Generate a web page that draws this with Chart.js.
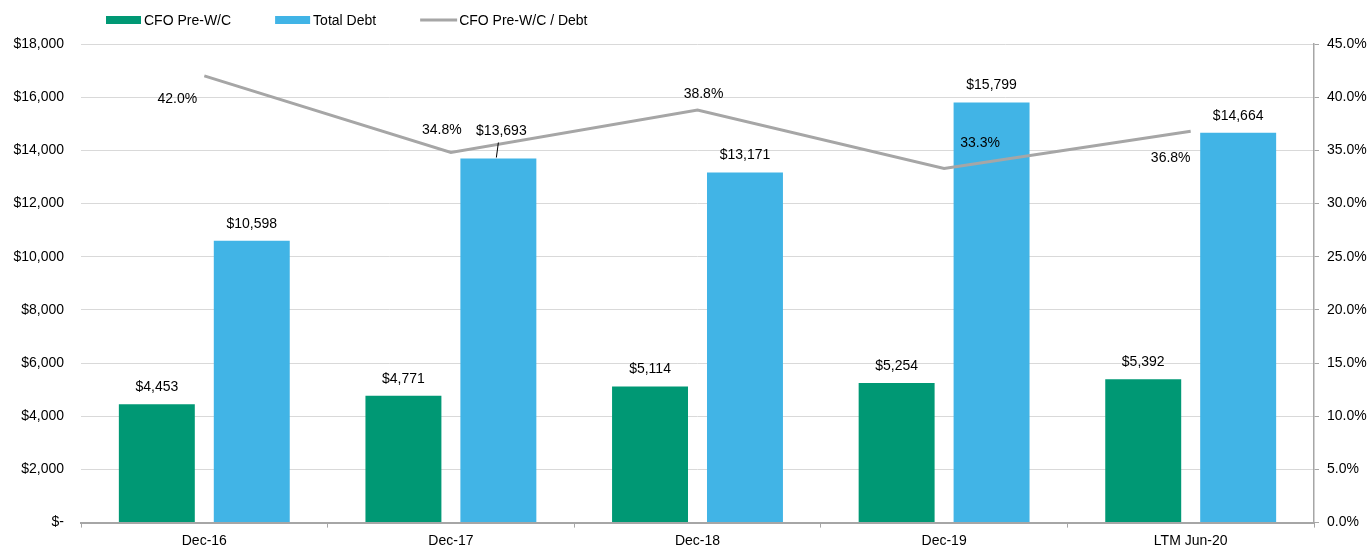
<!DOCTYPE html>
<html lang="en">
<head>
    <meta charset="UTF-8">
    <title>CFO Pre-W/C vs Total Debt</title>
    <script src="https://cdn.jsdelivr.net/npm/chart.js"></script>
    <style>
        html, body { margin: 0; padding: 0; background: #fff; }
        #wrap { width: 1370px; height: 548px; }
    </style>
</head>
<body>
    <div id="wrap"><canvas id="grafico"></canvas></div>
    <script>
        // dados
        const categorias = ['Dec-16', 'Dec-17', 'Dec-18', 'Dec-19', 'LTM Jun-20'];
        const cfoPreWC = [4453, 4771, 5114, 5254, 5392];
        const totalDebt = [10598, 13693, 13171, 15799, 14664];
        const cfoSobreDebt = [42.0, 34.8, 38.8, 33.3, 36.8];

        const verde = '#009874';
        const azul = '#41b4e6';
        const cinza = '#a6a6a6';
        const fonte = '"Liberation Sans", Arial, sans-serif';

        const fmtDolar = v => v === 0 ? '$-' : '$' + v.toLocaleString('en-US');

        // deslocamento manual dos rótulos da linha (como no Excel)
        const offsetLinha = [[-27, 23], [-9, -22], [6, -16], [36, -25], [-20, 27]];

        const rotulosPlugin = {
            id: 'rotulos',
            afterDatasetsDraw(chart) {
                const ctx = chart.ctx;
                ctx.save();
                ctx.font = '14px ' + fonte;
                ctx.fillStyle = '#000';
                ctx.textAlign = 'center';
                ctx.textBaseline = 'middle';
                [0, 1].forEach(i => {
                    chart.getDatasetMeta(i).data.forEach((bar, j) => {
                        const v = chart.data.datasets[i].data[j];
                        let dy = 17;
                        if (i === 1 && j === 1) {
                            // rótulo deslocado com linha de chamada
                            dy = 27;
                            ctx.strokeStyle = '#000';
                            ctx.lineWidth = 1;
                            ctx.beginPath();
                            ctx.moveTo(bar.x - 2, bar.y - 1);
                            ctx.lineTo(bar.x, bar.y - 16);
                            ctx.stroke();
                        }
                        ctx.fillText(fmtDolar(v), bar.x + (i === 1 && j === 1 ? 3 : 0), bar.y - dy);
                    });
                });
                chart.getDatasetMeta(2).data.forEach((pt, j) => {
                    const v = chart.data.datasets[2].data[j];
                    ctx.fillText(v.toFixed(1) + '%', pt.x + offsetLinha[j][0], pt.y + offsetLinha[j][1]);
                });
                ctx.restore();
            }
        };

        const legendaPlugin = {
            id: 'legenda',
            afterDraw(chart) {
                const ctx = chart.ctx;
                ctx.save();
                ctx.font = '14px ' + fonte;
                ctx.textBaseline = 'middle';
                let x = 106;
                const y = 20;
                chart.data.datasets.forEach(ds => {
                    if (ds.type === 'line') {
                        ctx.strokeStyle = ds.borderColor;
                        ctx.lineWidth = 3;
                        ctx.beginPath();
                        ctx.moveTo(x, y);
                        ctx.lineTo(x + 37, y);
                        ctx.stroke();
                        x += 39;
                    } else {
                        ctx.fillStyle = ds.backgroundColor;
                        ctx.fillRect(x, y - 4, 35, 8);
                        x += 38;
                    }
                    ctx.fillStyle = '#000';
                    ctx.fillText(ds.label, x, y + 1);
                    x += ctx.measureText(ds.label).width + 44;
                });
                ctx.restore();
            }
        };

        new Chart(document.getElementById('grafico'), {
            data: {
                labels: categorias,
                datasets: [
                    {
                        type: 'bar',
                        label: 'CFO Pre-W/C',
                        data: cfoPreWC,
                        backgroundColor: verde,
                        yAxisID: 'y',
                        categoryPercentage: 0.77,
                        barPercentage: 0.8,
                        order: 2
                    },
                    {
                        type: 'bar',
                        label: 'Total Debt',
                        data: totalDebt,
                        backgroundColor: azul,
                        yAxisID: 'y',
                        categoryPercentage: 0.77,
                        barPercentage: 0.8,
                        order: 2
                    },
                    {
                        type: 'line',
                        label: 'CFO Pre-W/C / Debt',
                        data: cfoSobreDebt,
                        borderColor: cinza,
                        backgroundColor: cinza,
                        borderWidth: 3,
                        pointRadius: 0,
                        tension: 0,
                        yAxisID: 'y1',
                        order: 1
                    }
                ]
            },
            options: {
                responsive: true,
                maintainAspectRatio: false,
                animation: false,
                layout: { padding: { top: 44, bottom: 0 } },
                plugins: {
                    legend: { display: false },
                    tooltip: { enabled: false }
                },
                scales: {
                    x: {
                        grid: {
                            offset: true,
                            drawOnChartArea: false,
                            color: cinza,
                            tickLength: 5
                        },
                        border: { color: cinza, width: 2 },
                        ticks: { color: '#000', font: { family: fonte, size: 14 }, padding: 5 },
                        afterFit(scale) { scale.height = 25; }
                    },
                    y: {
                        position: 'left',
                        min: 0,
                        max: 18000,
                        ticks: {
                            stepSize: 2000,
                            color: '#000',
                            padding: 17,
                            font: { family: fonte, size: 14 },
                            callback: v => fmtDolar(v)
                        },
                        grid: { color: '#d9d9d9', drawTicks: false },
                        border: { display: false },
                        afterFit(scale) { scale.width = 81; }
                    },
                    y1: {
                        position: 'right',
                        min: 0,
                        max: 45,
                        ticks: {
                            stepSize: 5,
                            color: '#000',
                            padding: 8,
                            font: { family: fonte, size: 14 },
                            callback: v => v.toFixed(1) + '%'
                        },
                        grid: { drawOnChartArea: false, color: cinza, tickLength: 5 },
                        border: { color: cinza, width: 1.5 },
                        afterFit(scale) { scale.width = 56; }
                    }
                }
            },
            plugins: [rotulosPlugin, legendaPlugin]
        });
    </script>
</body>
</html>
